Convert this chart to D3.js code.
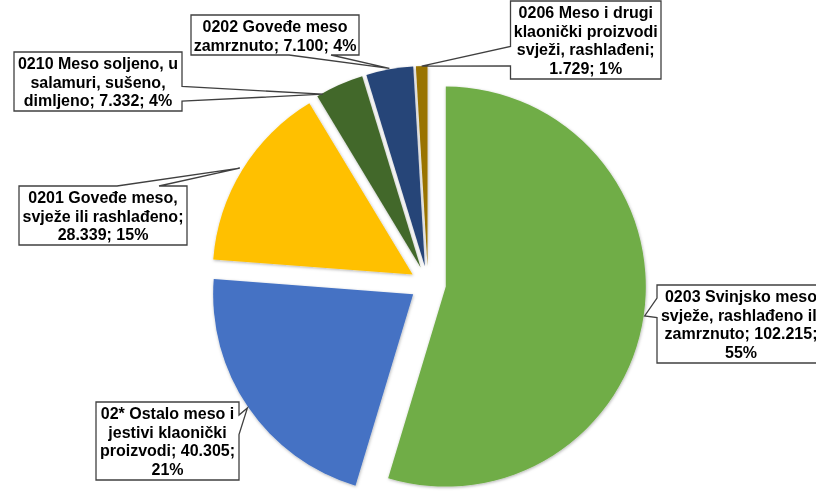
<!DOCTYPE html>
<html><head><meta charset="utf-8">
<script src="https://cdn.jsdelivr.net/npm/d3@7"></script>
<style>html,body{margin:0;padding:0;background:#fff;overflow:hidden}</style>
</head><body><svg id="chart" width="816" height="502"></svg>
<script>
// ---- data ----
const categories = [
  "0203 Svinjsko meso svježe, rashlađeno ili zamrznuto",
  "02* Ostalo meso i jestivi klaonički proizvodi",
  "0201 Goveđe meso, svježe ili rashlađeno",
  "0210 Meso soljeno, u salamuri, sušeno, dimljeno",
  "0202 Goveđe meso zamrznuto",
  "0206 Meso i drugi klaonički proizvodi svježi, rashlađeni"
];
const values = [102215, 40305, 28339, 7332, 7100, 1729];
const percents = [55, 21, 15, 4, 4, 1];
const wordsPerLine = [[3,3,2,1],[4,2,2,1],[3,3,2],[4,2,3],[3,3],[4,2,2,2]];

// ---- style / layout ----
const colors = ["#70AD47","#4472C4","#FFC000","#43682B","#264478","#997300"];
const center = [428, 284], radius = 200, explode = 18;
const boxes = [
  {x:657, y:285, w:168, side:"left"},
  {x:96,  y:402, w:143, side:"right"},
  {x:19,  y:186, w:168, side:"top"},
  {x:14,  y:52,  w:168, side:"right"},
  {x:191, y:15,  w:168, side:"bottom"},
  {x:510.5, y:1, w:150.5, side:"left"}
];
const tipT = [0.5, 0.5, 0.5, 0.12, 0.5, 0.5];
const tipR = [201, 201, 203, 199, 201, 200];
const lineH = 18.7;

const locale = d3.formatLocale({decimal:",", thousands:".", grouping:[3], currency:["",""]});
const fmt = locale.format(",d");

const svg = d3.select("#chart");
const defs = svg.append("defs");
const f = defs.append("filter").attr("id","sh").attr("x","-20%").attr("y","-20%").attr("width","140%").attr("height","140%");
f.append("feDropShadow").attr("dx",0.5).attr("dy",1).attr("stdDeviation",1.6)
  .attr("flood-color","#000").attr("flood-opacity",0.3);

const pie = d3.pie().sort(null).value(d => d)(values);
const arc = d3.arc().innerRadius(0).outerRadius(radius);

const slices = svg.append("g").attr("filter","url(#sh)");
pie.forEach((d, i) => {
  const mid = (d.startAngle + d.endAngle) / 2;
  const ox = center[0] + explode * Math.sin(mid);
  const oy = center[1] - explode * Math.cos(mid);
  slices.append("path")
    .attr("d", arc(d))
    .attr("transform", `translate(${ox},${oy})`)
    .attr("fill", colors[i]);
});

// ---- labels ----
const lg = svg.append("g");
pie.forEach((d, i) => {
  const mid = (d.startAngle + d.endAngle) / 2;
  const ax = center[0] + explode * Math.sin(mid);
  const ay = center[1] - explode * Math.cos(mid);
  const a = d.startAngle + tipT[i] * (d.endAngle - d.startAngle);
  const tx = ax + tipR[i] * Math.sin(a), ty = ay - tipR[i] * Math.cos(a);

  const text = `${categories[i]}; ${fmt(values[i])}; ${percents[i]}%`;
  const words = text.split(" ");
  const lines = []; let k = 0;
  wordsPerLine[i].forEach(n => { lines.push(words.slice(k, k + n).join(" ")); k += n; });

  const b = boxes[i];
  const h = 19 * lines.length + 2;
  const x0 = b.x, y0 = b.y, x1 = b.x + b.w, y1 = b.y + h;
  const cx = (x0 + x1) / 2, cy = (y0 + y1) / 2;
  let p;
  if (b.side === "left" || b.side === "right") {
    const [f1, f2] = ty < cy ? [2/12, 5/12] : [7/12, 10/12];
    if (b.side === "right")
      p = `M${x0},${y0}H${x1}V${y0+h*f1}L${tx},${ty}L${x1},${y0+h*f2}V${y1}H${x0}Z`;
    else
      p = `M${x0},${y0}H${x1}V${y1}H${x0}V${y0+h*f2}L${tx},${ty}L${x0},${y0+h*f1}Z`;
  } else {
    const [f1, f2] = tx < cx ? [2/12, 5/12] : [7/12, 10/12];
    if (b.side === "top")
      p = `M${x0},${y0}H${x0+b.w*f1}L${tx},${ty}L${x0+b.w*f2},${y0}H${x1}V${y1}H${x0}Z`;
    else
      p = `M${x0},${y0}H${x1}V${y1}H${x0+b.w*f2}L${tx},${ty}L${x0+b.w*f1},${y1}H${x0}Z`;
  }
  lg.append("path").attr("d", p).attr("fill","#fff").attr("stroke","#404040").attr("stroke-width",1.3);
  const t = lg.append("text")
    .attr("text-anchor","middle")
    .attr("font-family","'Liberation Sans', Arial, sans-serif")
    .attr("font-weight","bold").attr("font-size","16px").attr("fill","#000");
  lines.forEach((ln, j) => {
    t.append("tspan").attr("x", cx).attr("y", y0 + 17 + j * lineH).text(ln);
  });
});
</script>
</body></html>
